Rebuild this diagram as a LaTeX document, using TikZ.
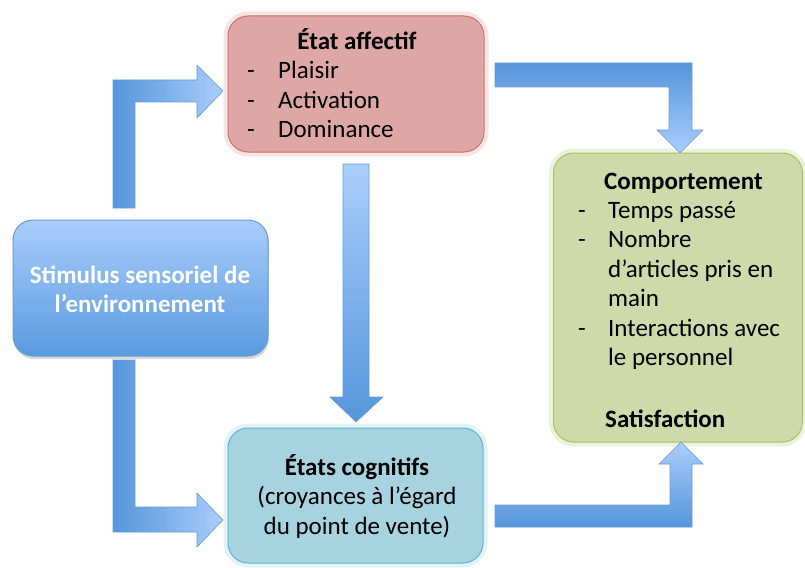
\documentclass[tikz,border=0pt]{standalone}
\usepackage{fontspec}
\setmainfont{Carlito}
\usetikzlibrary{shadows}
\definecolor{affectfill}{HTML}{DEA7A6}
\definecolor{affectline}{HTML}{D0706C}
\definecolor{comportfill}{HTML}{CFDAAB}
\definecolor{comportline}{HTML}{A7C263}
\definecolor{cognifill}{HTML}{A6D3DF}
\definecolor{cogniline}{HTML}{5DB6CE}
\definecolor{stimtop}{HTML}{A9CDFB}
\definecolor{stimbottom}{HTML}{5A9AE0}
\definecolor{adark}{HTML}{5595DB}
\definecolor{alight}{HTML}{AACEFB}
\definecolor{aline}{HTML}{6A9BD3}
\begin{document}
\begin{tikzpicture}[x=1pt,y=-1pt,
    box/.style={rounded corners=20pt, line width=1pt, inner sep=0pt},
    glow/.style={preaction={draw=#1, line width=9pt, opacity=0.3}},
    txt/.style={inner sep=0pt, font=\fontsize{25}{29.5}\selectfont},
    barrow/.style={draw=aline, line width=0.6pt}]
    \useasboundingbox (0,0) rectangle (805,567);
    \node[box, glow=affectline!60, draw=affectline, fill=affectfill, minimum width=256pt, minimum height=136pt] (affect) at (356,84) {};
    \node[box, glow=comportline!70, draw=comportline, fill=comportfill, minimum width=249pt, minimum height=289pt] (comport) at (678,297.5) {};
    \node[box, glow=cogniline!60, draw=cogniline, fill=cognifill, minimum width=255pt, minimum height=135pt] (cogni) at (355.5,495.5) {};
    \node[box, drop shadow={opacity=0.3, shadow xshift=1pt, shadow yshift=-3pt}, draw=aline, top color=stimtop, bottom color=stimbottom, minimum width=255pt, minimum height=136pt] (stim) at (140.5,288) {};

    \node[txt, anchor=base] (affecttitle) at (357,50) {\bfseries État affectif};
    \node[txt, anchor=base west] (affectlist) at (247,79) {\begin{tabular}[t]{@{}p{31pt}@{}l@{}}-&Plaisir\\-&Activation\\-&Dominance\end{tabular}};
    \node[txt, anchor=base west] (comporttitle) at (604,189) {\bfseries Comportement};
    \node[txt, anchor=base west] (comportlist) at (578,218) {\begin{tabular}[t]{@{}p{30pt}@{}l@{}}-&Temps passé\\-&Nombre\\&d’articles pris en\\&main\\-&Interactions avec\\&le personnel\end{tabular}};
    \node[txt, anchor=base west] (satisf) at (605,427) {\bfseries Satisfaction};
    \node[txt, anchor=base] (cognitxt) at (357,475) {\begin{tabular}[t]{@{}c@{}}\bfseries États cognitifs\\(croyances à l’égard\\du point de vente)\end{tabular}};
    \node[txt, anchor=base, text=white] (stimtxt) at (140,283) {\begin{tabular}[t]{@{}c@{}}\bfseries Stimulus sensoriel de\\\bfseries l’environnement\end{tabular}};

    \shadedraw[barrow, left color=adark, right color=alight] (113,208) -- (113,80) -- (197,80) -- (197,65) -- (223,91) -- (197,118) -- (197,102) -- (135,102) -- (135,208) -- cycle;
    \shadedraw[barrow, left color=adark, right color=alight] (113,360) -- (113,532) -- (197,532) -- (197,547) -- (223,520) -- (197,493) -- (197,507) -- (135,507) -- (135,360) -- cycle;
    \shadedraw[barrow, top color=adark, bottom color=alight] (495,63) -- (692,63) -- (692,130) -- (703,130) -- (680,153) -- (657,130) -- (669,130) -- (669,87) -- (495,87) -- cycle;
    \shadedraw[barrow, bottom color=adark, top color=alight] (495,527) -- (692,527) -- (692,464) -- (703,464) -- (681,442) -- (659,464) -- (670,464) -- (670,505) -- (495,505) -- cycle;
    \shadedraw[barrow, top color=alight, bottom color=adark] (343,164) -- (343,397) -- (330,397) -- (356,422) -- (383,397) -- (369,397) -- (369,164) -- cycle;
\end{tikzpicture}
\end{document}
